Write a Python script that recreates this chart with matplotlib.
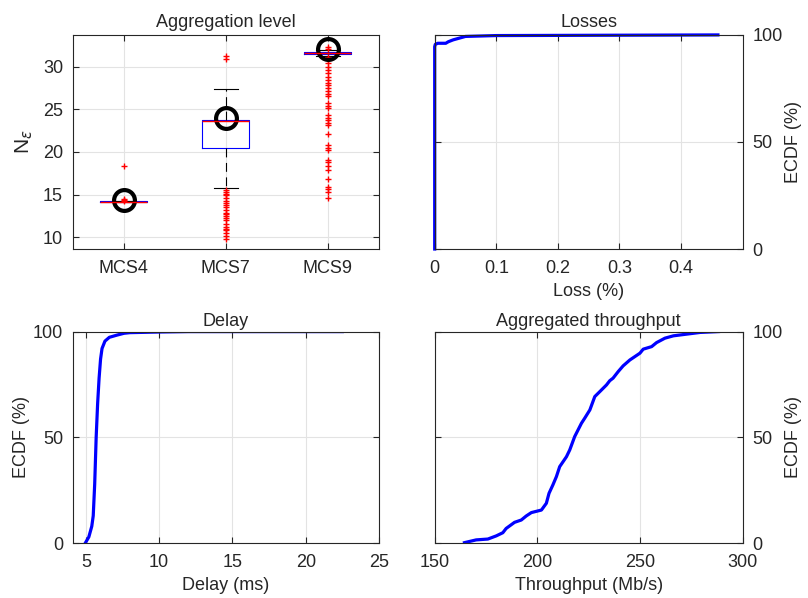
import matplotlib.pyplot as plt

plt.rcParams['font.family'] = ['Liberation Sans', 'DejaVu Sans']
plt.rcParams['font.size'] = 13
plt.rcParams['text.color'] = '#262626'
plt.rcParams['axes.labelcolor'] = '#262626'
plt.rcParams['xtick.color'] = '#262626'
plt.rcParams['ytick.color'] = '#262626'
plt.rcParams['axes.edgecolor'] = '#262626'

# Aggregation level (box plot stats)
labels = ['MCS4', 'MCS7', 'MCS9']
q1 = [14.1, 20.5, 31.5]
med = [14.15, 23.6, 31.6]
q3 = [14.2, 23.7, 31.7]
whislo = [14.1, 15.8, 31.2]
whishi = [14.2, 27.4, 31.9]
means = [14.37, 24.0, 32.05]
fliers_mcs4 = [18.4, 14.5, 14.4, 14.3]
fliers_mcs7 = [31.2, 30.9, 15.5, 15.3, 15.1, 14.9, 14.6, 14.3, 14.0, 13.8, 13.5,
               13.2, 12.9, 12.7, 12.5, 12.3, 12.0, 11.6, 11.2, 11.0, 10.8, 10.5,
               10.2, 9.8]
fliers_mcs9 = [32.3, 32.1, 31.1, 30.8, 30.4, 30.0, 29.6, 29.2, 28.8, 28.4, 28.05,
               27.85, 27.5, 27.1, 26.8, 26.5, 25.7, 25.4, 25.2, 24.3, 24.0, 23.75,
               23.4, 23.2, 22.1, 20.8, 20.5, 20.2, 19.1, 18.8, 18.3, 17.9, 16.8,
               15.9, 15.65, 15.3, 14.6]

# Losses ECDF
loss_x = [0, 0, 0.001, 0.005, 0.018, 0.022, 0.03, 0.04, 0.05, 0.1, 0.46]
loss_y = [0, 94.5, 95.6, 96.1, 96.1, 96.8, 97.7, 98.5, 99.3, 99.7, 100]

# Delay ECDF
delay_x = [4.95, 5.2, 5.4, 5.5, 5.6, 5.7, 5.8, 5.9, 6.0, 6.1, 6.3, 6.6, 7.1, 7.6,
           8.0, 10.0, 12.0, 22.5]
delay_y = [0, 3, 8, 13, 28, 50, 66, 78, 87, 92, 95.5, 97.3, 98.3, 99.2, 99.5,
           99.8, 100, 100]

# Aggregated throughput ECDF
thr_x = [164.5, 170.2, 175.9, 180, 183.2, 184.8, 188.9, 192.2, 194.6, 197.1, 202,
         204.4, 205.7, 207.6, 209.3, 210.9, 214.2, 215.8, 218.2, 221.5, 223.1,
         225.6, 228, 230.4, 233.7, 235.3, 236.9, 239.4, 241.8, 245.1, 250, 251.6,
         255.7, 258.1, 262.2, 266.3, 272.8, 279.3, 288.3]
thr_y = [0.3, 1.6, 2.0, 3.5, 5, 7, 9.9, 11, 12.9, 14.5, 15.7, 18.9, 23.6, 27.6,
         31.5, 36.2, 40.9, 44.1, 50.4, 56.7, 59.1, 63, 69.3, 71.6, 74.8, 76.8, 78,
         81.1, 83.8, 86.6, 89.8, 91.7, 92.9, 94.8, 96.9, 98, 98.8, 99.6, 100]

fig = plt.figure(figsize=(8.08, 5.98), dpi=100)
ax1 = fig.add_axes([0.09, 0.5836, 0.379, 0.358])
ax2 = fig.add_axes([0.538, 0.5836, 0.381, 0.358])
ax3 = fig.add_axes([0.09, 0.0915, 0.379, 0.354])
ax4 = fig.add_axes([0.538, 0.0915, 0.381, 0.354])

for ax in (ax1, ax2, ax3, ax4):
    ax.grid(True, color='#e3e3e3', linewidth=0.8)
    ax.set_axisbelow(True)
    ax.tick_params(direction='in', top=True, right=True, left=True, length=4)
    ax.tick_params(axis='x', pad=8)
    ax.tick_params(axis='y', pad=7)

# box plot
fliers = [fliers_mcs4, fliers_mcs7, fliers_mcs9]
stats = []
for i in range(3):
    stats.append({'label': labels[i], 'q1': q1[i], 'med': med[i], 'q3': q3[i],
                  'whislo': whislo[i], 'whishi': whishi[i], 'fliers': fliers[i]})
ax1.bxp(stats, positions=[1, 2, 3], widths=0.46, showfliers=True,
        boxprops=dict(color='blue', linewidth=0.8),
        medianprops=dict(color='red', linewidth=1.0),
        whiskerprops=dict(color='black', linestyle=(0, (8, 5)), linewidth=0.8),
        capprops=dict(color='black', linewidth=0.8),
        flierprops=dict(marker='+', markeredgecolor='red', markersize=4,
                        linestyle='none'))
ax1.plot([1, 2, 3], means, 'o', markerfacecolor='none', markeredgecolor='black',
         markersize=15, markeredgewidth=3)
ax1.set_xlim(0.5, 3.5)
ax1.set_ylim(8.63, 33.7)
ax1.set_yticks([10, 15, 20, 25, 30])
ax1.set_xticks([1, 2, 3])
ax1.set_xticklabels(labels)
ax1.set_ylabel(r'N$_\epsilon$', fontsize=15, labelpad=6)
ax1.set_title('Aggregation level', fontsize=13)

# losses
ax2.plot(loss_x, loss_y, color='blue', linewidth=2.3, clip_on=False)
ax2.set_xlim(0, 0.5)
ax2.set_xticks([0, 0.1, 0.2, 0.3, 0.4])
ax2.set_xticklabels(['0', '0.1', '0.2', '0.3', '0.4'])
ax2.set_ylim(0, 100)
ax2.set_yticks([0, 50, 100])
ax2.yaxis.tick_right()
ax2.tick_params(left=True, direction='in')
ax2.yaxis.set_label_position('right')
ax2.set_ylabel('ECDF (%)', labelpad=2)
ax2.set_xlabel('Loss (%)', labelpad=4)
ax2.set_title('Losses', fontsize=13)

# delay
ax3.plot(delay_x, delay_y, color='blue', linewidth=2.3)
ax3.set_xlim(4.1, 25)
ax3.set_xticks([5, 10, 15, 20, 25])
ax3.set_ylim(0, 100)
ax3.set_yticks([0, 50, 100])
ax3.set_ylabel('ECDF (%)', labelpad=2)
ax3.set_xlabel('Delay (ms)', labelpad=4)
ax3.set_title('Delay', fontsize=13, pad=4)

# throughput
ax4.plot(thr_x, thr_y, color='blue', linewidth=2.3)
ax4.set_xlim(150, 300)
ax4.set_xticks([150, 200, 250, 300])
ax4.set_ylim(0, 100)
ax4.set_yticks([0, 50, 100])
ax4.yaxis.tick_right()
ax4.tick_params(left=True, direction='in')
ax4.yaxis.set_label_position('right')
ax4.set_ylabel('ECDF (%)', labelpad=2)
ax4.set_xlabel('Throughput (Mb/s)', labelpad=4)
ax4.set_title('Aggregated throughput', fontsize=13, pad=4)

fig.savefig('out.png', dpi=100)
